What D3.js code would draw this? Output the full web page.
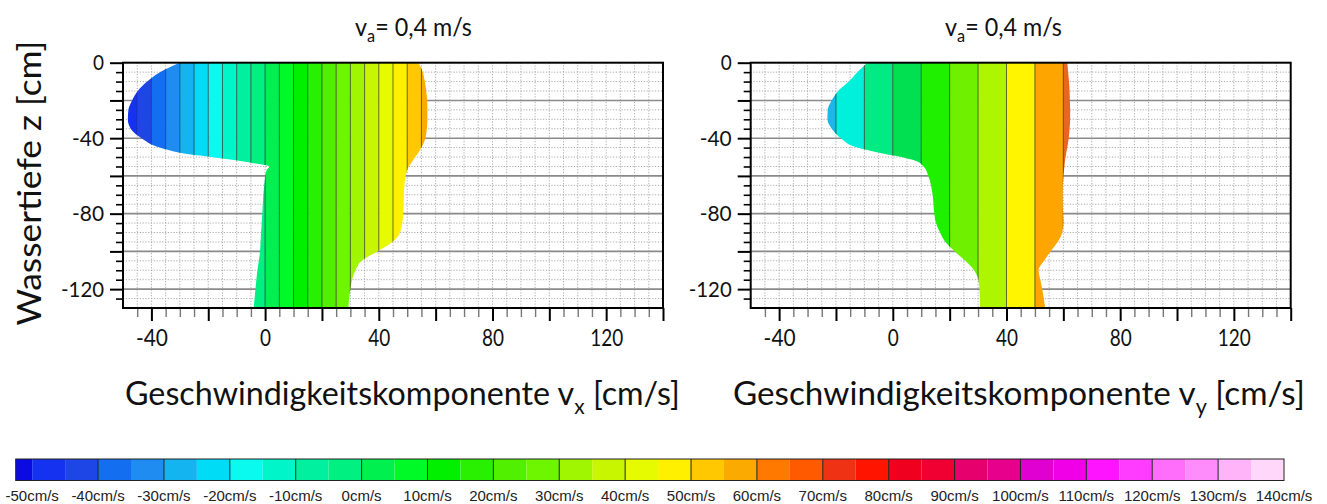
<!DOCTYPE html>
<html><head><meta charset="utf-8">
<script src="https://cdn.jsdelivr.net/npm/d3@7"></script>
<style>body{margin:0;background:#fff;} svg{display:block}</style>
</head><body>
<svg id="c" width="1327" height="504"></svg>
<script>
// ---------- data ----------
const depthL = [0,-5,-10,-15,-20,-25,-30,-35,-40,-45,-48,-50,-53,-55,-57,-65,-80,-90,-95,-100,-105,-110,-120,-130];
const vxMin  = [-30,-37,-41.5,-44.8,-46.8,-48.1,-48.3,-47.3,-43.5,-37,-29,-19,-5,1.5,0.5,-0.3,-1,-1.4,-1.6,-1.8,-2.2,-2.7,-3.4,-4];
const vxMax  = [54,55.5,56.2,56.7,57,57.1,57.1,56.9,56.4,55,53.8,52.8,51.5,50.5,50,49,48.6,47.5,44.8,39.5,34,31.8,30,29.3];

const depthR = [0,-5,-10,-15,-20,-25,-30,-35,-40,-45,-48,-50,-52,-55,-60,-70,-80,-85,-90,-95,-100,-105,-110,-115,-120,-130];
const vyMin  = [-9,-12.5,-15.5,-19.2,-21.5,-22.9,-23,-21.5,-18.3,-12.5,-4,3,8,10.8,12.5,14,14.6,15.2,16.6,18.5,21.8,25.5,28.6,30.1,30.5,30.7];
const vyMax  = [61.4,61.7,62,62.2,62.3,62.4,62.4,62.2,61.9,61.4,61,60.8,60.6,60.4,60,59.8,59.9,60,59.6,58,55.5,53.2,51.3,51.9,52.6,53.6];

const bandEdgesL = [-55,-50,-45,-40,-35,-30,-25,-20,-15,-10,-5,0,5,10,15,20,25,30,35,40,45,50,55,60];
const bandEdgesR = [-30,-20,-10,0,10,20,30,40,50,60,70];
const bandColorsR = ["#1bb6ea","#00f0dc","#00eb84","#00e050","#1ef000","#6ef000","#aef500","#fff500","#ffa500","#e8661e"];

const legendEdges = [-52.5,-50,-45,-40,-35,-30,-25,-20,-15,-10,-5,0,5,10,15,20,25,30,35,40,45,50,55,60,65,70,75,80,85,90,95,100,105,110,115,120,125,130,135,140];
const legendColors = ["#0a0ae1","#1432f0","#1e46e6","#146ef0","#1e8cf0","#14b4f0","#00dcf5","#0afaf0","#00f5c8","#00f0a0",
  "#00f082","#00f050","#00fa28","#00f000","#28f000","#50f000","#6ef500","#a0f500","#c8f500","#e6fa00",
  "#fff000","#ffc800","#faaa00","#ff7800","#ff5a00","#f03214","#ff1400","#f0001e","#f00032","#e6006e",
  "#e6008c","#e100d2","#f000e6","#ff14ff","#ff3cff","#ff6efa","#ff8cfa","#ffb4fa","#ffd7fa"];
const legendLabels = [-50,-40,-30,-20,-10,0,10,20,30,40,50,60,70,80,90,100,110,120,130,140];

const xLabelTicks = [-40,0,40,80,120];
const yLabelTicks = [0,-40,-80,-120];

// ---------- drawing ----------
const svg = d3.select("#c");
const FONT = "Lato, 'Open Sans', sans-serif";
const legendScale = d3.scaleThreshold().domain(legendEdges.slice(1,-1)).range(legendColors);

// horizontally compress a text (Calibri-like narrow look) to a target width
function squeeze(sel, x, y, target, rot) {
  const w = sel.node().getComputedTextLength();
  sel.attr("x", 0).attr("y", 0)
     .attr("transform", `translate(${x},${y}) rotate(${rot || 0}) scale(${target / w},1)`);
}

function panel(o) {
  const g = svg.append("g");
  const x = d3.scaleLinear().domain([-50, 140]).range([o.left, o.left + 540]);
  const y = d3.scaleLinear().domain([0, -130]).range([62.7, 308]);
  const [X0, X1] = x.range(), [Y0, Y1] = y.range();

  // grid
  const grid = g.append("g");
  const minorX = d3.range(-45, 140, 5);
  const minorY = d3.range(-5, -130, -5).filter(v => v % 20 !== 0);
  const majorY = d3.range(-20, -130, -20);
  grid.selectAll(".vx").data(minorX).join("line")
    .attr("x1", d => x(d)).attr("x2", d => x(d)).attr("y1", Y0).attr("y2", Y1)
    .attr("stroke", "#aaaaaa").attr("stroke-width", 1).attr("stroke-dasharray", "1.2,1.6");
  grid.selectAll(".hy").data(minorY).join("line")
    .attr("x1", X0).attr("x2", X1).attr("y1", d => y(d)).attr("y2", d => y(d))
    .attr("stroke", "#aaaaaa").attr("stroke-width", 1).attr("stroke-dasharray", "1.2,1.6");
  grid.selectAll(".hm").data(majorY).join("line")
    .attr("x1", X0).attr("x2", X1).attr("y1", d => y(d)).attr("y2", d => y(d))
    .attr("stroke", "#8a8a8a").attr("stroke-width", 1.6);

  // profile clip
  const area = d3.area()
    .y((d, i) => y(o.depth[i]))
    .x0((d, i) => x(o.vmin[i]))
    .x1((d, i) => x(o.vmax[i]))
    .curve(d3.curveMonotoneY);
  g.append("clipPath").attr("id", o.id).append("path").attr("d", area(o.depth));

  const fill = g.append("g").attr("clip-path", `url(#${o.id})`);
  const bands = d3.pairs(o.edges);
  fill.selectAll("rect").data(bands).join("rect")
    .attr("x", d => x(d[0])).attr("width", d => x(d[1]) - x(d[0]))
    .attr("y", Y0).attr("height", Y1 - Y0)
    .attr("fill", (d, i) => o.colors ? o.colors[i] : legendScale((d[0] + d[1]) / 2));
  fill.selectAll("line").data(o.edges.slice(1, -1)).join("line")
    .attr("x1", d => x(d)).attr("x2", d => x(d)).attr("y1", Y0).attr("y2", Y1)
    .attr("stroke", "#2a2a2a").attr("stroke-width", 0.8).attr("stroke-opacity", 0.85);

  // axes
  const yMinor = g.append("g").attr("transform", `translate(${X0},0)`)
    .call(d3.axisLeft(y).tickValues(minorY).tickSize(7).tickFormat(""));
  yMinor.select(".domain").remove();
  yMinor.selectAll("line").attr("stroke", "#000").attr("stroke-width", 1.6);
  const yMajor = g.append("g").attr("transform", `translate(${X0},0)`)
    .call(d3.axisLeft(y).tickValues(d3.range(0, -130, -20)).tickSize(13).tickPadding(6)
      .tickFormat(d => yLabelTicks.includes(d) ? String(d) : ""));
  yMajor.select(".domain").remove();
  yMajor.selectAll("line").attr("stroke", "#000").attr("stroke-width", 2);
  yMajor.selectAll("text").attr("font-family", FONT).attr("font-size", 22).attr("fill", "#111")
    .each(function(d) { if (yLabelTicks.includes(d)) d3.select(this).attr("textLength", String(d).length * 11 - (d < 0 ? 1 : 0)).attr("lengthAdjust", "spacingAndGlyphs"); });

  const xMinor = g.append("g").attr("transform", `translate(0,${Y1})`)
    .call(d3.axisBottom(x).tickValues(minorX.filter(v => v % 20 !== 0)).tickSize(9).tickFormat(""));
  xMinor.select(".domain").remove();
  xMinor.selectAll("line").attr("stroke", "#777").attr("stroke-width", 1.4);
  const xMajor = g.append("g").attr("transform", `translate(0,${Y1})`)
    .call(d3.axisBottom(x).tickValues(d3.range(-40, 141, 20)).tickSize(13).tickPadding(9)
      .tickFormat(d => xLabelTicks.includes(d) ? String(d) : ""));
  xMajor.select(".domain").remove();
  xMajor.selectAll("line").attr("stroke", "#000").attr("stroke-width", 2);
  xMajor.selectAll("text").attr("font-family", FONT).attr("font-size", 23).attr("fill", "#111")
    .each(function(d) { if (xLabelTicks.includes(d)) d3.select(this).attr("textLength", String(d).length * 11 - (d < 0 ? 1 : 0)).attr("lengthAdjust", "spacingAndGlyphs"); });

  // frame
  g.append("rect").attr("x", X0).attr("y", Y0).attr("width", X1 - X0).attr("height", Y1 - Y0)
    .attr("fill", "none").attr("stroke", "#000").attr("stroke-width", 2);

  // title
  const t = g.append("text").attr("font-family", FONT).attr("font-size", 25).attr("fill", "#111");
  t.append("tspan").text("v");
  t.append("tspan").attr("font-size", "70%").attr("dy", "0.35em").text("a");
  t.append("tspan").attr("dy", "-0.245em").text("= 0,4 m/s");
  squeeze(t, o.titleX, 36, 117);

  // x title
  const xt = g.append("text").attr("font-family", FONT).attr("font-size", 33).attr("fill", "#111");
  xt.append("tspan").text("Geschwindigkeitskomponente v");
  xt.append("tspan").attr("font-size", "65%").attr("dy", "0.4em").text(o.sub);
  xt.append("tspan").attr("dy", "-0.26em").text(" [cm/s]");
  squeeze(xt, o.xTitleX, 405, o.xTitleW);
}

panel({id: "clipL", left: 123, depth: depthL, vmin: vxMin, vmax: vxMax, edges: bandEdgesL,
       titleX: 355, xTitleX: 125, xTitleW: 555, sub: "x"});
panel({id: "clipR", left: 750.7, depth: depthR, vmin: vyMin, vmax: vyMax, edges: bandEdgesR, colors: bandColorsR,
       titleX: 945, xTitleX: 733, xTitleW: 572, sub: "y"});

// y title
const yt = svg.append("text")
  .attr("text-anchor", "middle").attr("font-family", FONT).attr("font-size", 33).attr("fill", "#111")
  .text("Wassertiefe z [cm]");
squeeze(yt, 41, 183, 285, -90);

// legend
const lx = d3.scaleLinear().domain([-52.5, 140]).range([15.7, 1284]);
const lg = svg.append("g");
lg.selectAll("rect").data(d3.pairs(legendEdges)).join("rect")
  .attr("x", d => lx(d[0])).attr("width", d => lx(d[1]) - lx(d[0]))
  .attr("y", 459).attr("height", 21.5)
  .attr("fill", (d, i) => legendColors[i]);
lg.selectAll("line").data(legendLabels.slice(1, -1)).join("line")
  .attr("x1", d => lx(d)).attr("x2", d => lx(d)).attr("y1", 459).attr("y2", 480.5)
  .attr("stroke", "#222").attr("stroke-width", 1);
lg.append("rect").attr("x", lx(-52.5)).attr("y", 459).attr("width", lx(140) - lx(-52.5)).attr("height", 21.5)
  .attr("fill", "none").attr("stroke", "#222").attr("stroke-width", 1);
lg.selectAll("text").data(legendLabels).join("text")
  .attr("x", d => lx(d)).attr("y", 501).attr("text-anchor", "middle")
  .attr("font-family", "'Liberation Sans', Arial, sans-serif").attr("font-size", 15).attr("fill", "#222")
  .text(d => d + "cm/s");
</script>
</body></html>
